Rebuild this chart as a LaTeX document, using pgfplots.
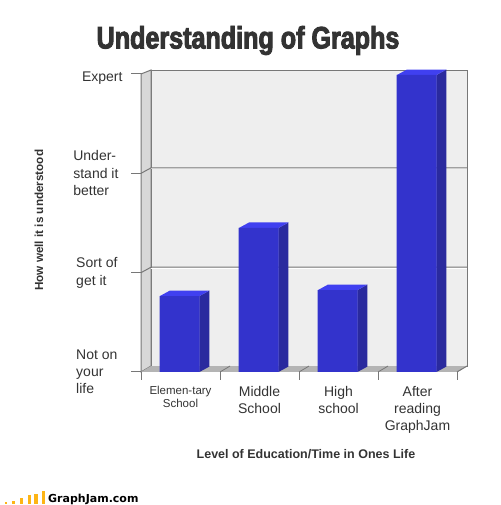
\documentclass[border=0pt]{standalone}
\usepackage{fontspec}
\setmainfont{Liberation Sans}
\newfontface\titlefont[FakeStretch=0.81,FakeBold=3]{Liberation Sans Bold}
\newfontface\logofont{DejaVu Sans Bold}
\usepackage{pgfplots}
\pgfplotsset{compat=1.18}
\definecolor{txt}{HTML}{333333}
\definecolor{wall}{HTML}{EEEEEE}
\definecolor{sidewall}{HTML}{D8D8D8}
\definecolor{floorc}{HTML}{B4B4B4}
\definecolor{framec}{HTML}{777777}
\definecolor{barfront}{HTML}{3333CC}
\definecolor{barside}{HTML}{2A2A9E}
\definecolor{bartop}{HTML}{4040F0}
\definecolor{logoc}{HTML}{FDB515}
\begin{document}
\begin{tikzpicture}[x=1pt,y=1pt]
\path[use as bounding box] (0,0) rectangle (500,505);
\begin{axis}[
    at={(141pt,133pt)}, anchor=origin,
    scale only axis, width=316pt, height=298pt,
    xmin=0, xmax=4, ymin=0, ymax=3,
    clip=false,
    axis x line=bottom, axis y line=left,
    axis line style={-, framec, line width=1pt},
    tick style={framec, line width=1pt},
    xtick={0.5,1.5,2.5,3.5},
    major x tick style={draw=none},
    minor xtick={0,1,2,3,4},
    minor tick length=16pt,
    xticklabels={{\fontsize{11.5}{13}\selectfont Elemen-tary\\[-4pt]\fontsize{11.5}{13}\selectfont School},Middle\\School,High\\school,After\\reading\\GraphJam},
    xticklabel style={align=center, anchor=north, text=txt, font=\fontsize{14}{17}\selectfont, yshift=-1pt},
    ytick={0,1,2,3},
    yticklabels={{Not on\hspace*{1pt}\\[-0.5pt]your\\[-0.5pt]life},{Sort of\hspace*{1pt}\\get it},{Under-\\stand it\hspace*{1pt}\\better},{\raisebox{-8pt}[0pt][0pt]{Expert}\hspace*{-4pt}}},
    major tick length=20pt,
    yticklabel style={align=left, anchor=east, text=txt, font=\fontsize{14}{17.5}\selectfont, xshift=-9pt},
    xlabel={Level of Education/Time in Ones Life},
    xlabel style={font=\bfseries\fontsize{12.5}{14}\selectfont, text=txt, at={(axis description cs:0.522,0)}, anchor=center, yshift=-82pt},
    ylabel={How well it is understood},
    ylabel style={font=\bfseries\fontsize{11.7}{14}\selectfont, text=txt, at={(axis description cs:0,0.509)}, anchor=center, yshift=102pt},
]
% walls
\addplot[fill=wall, draw=framec, line width=1pt, no markers] coordinates {(0.127,0.06) (4.127,0.06) (4.127,3.04) (0.127,3.04)} -- cycle;
\addplot[fill=sidewall, draw=framec, line width=1pt, no markers] coordinates {(0,0) (0.127,0.06) (0.127,3.04) (0,3)} -- cycle;
\addplot[fill=floorc, draw=none, no markers] coordinates {(0,0) (0.127,0.06) (4.127,0.06) (4,0)} -- cycle;
\addplot[framec, line width=1pt, no markers] coordinates {(4,0) (4.127,0.06)};
% gridlines, white highlight below
\addplot[white, line width=1pt, no markers] coordinates {(0.127,2.044) (4.127,2.044)};
\addplot[white, line width=1pt, no markers] coordinates {(0.127,1.044) (4.127,1.044)};
\addplot[framec, line width=1pt, no markers] coordinates {(0,2) (0.127,2.055) (4.127,2.055)};
\addplot[framec, line width=1pt, no markers] coordinates {(0,1) (0.127,1.055) (4.127,1.055)};
% floor ticks
\addplot[framec, line width=.8pt, no markers] coordinates {(1,0) (1.127,0.06)};
\addplot[framec, line width=.8pt, no markers] coordinates {(2,0) (2.127,0.06)};
\addplot[framec, line width=.8pt, no markers] coordinates {(3,0) (3.127,0.06)};
% bar sides and tops
\addplot[fill=barside, draw=none, no markers] coordinates {(0.74,0) (0.867,0.055) (0.867,0.82) (0.74,0.765)} -- cycle;
\addplot[fill=bartop, draw=none, no markers] coordinates {(0.24,0.765) (0.367,0.82) (0.867,0.82) (0.74,0.765)} -- cycle;
\addplot[fill=barside, draw=none, no markers] coordinates {(1.74,0) (1.867,0.055) (1.867,1.505) (1.74,1.45)} -- cycle;
\addplot[fill=bartop, draw=none, no markers] coordinates {(1.24,1.45) (1.367,1.505) (1.867,1.505) (1.74,1.45)} -- cycle;
\addplot[fill=barside, draw=none, no markers] coordinates {(2.74,0) (2.867,0.055) (2.867,0.88) (2.74,0.825)} -- cycle;
\addplot[fill=bartop, draw=none, no markers] coordinates {(2.24,0.825) (2.367,0.88) (2.867,0.88) (2.74,0.825)} -- cycle;
\addplot[fill=barside, draw=none, no markers] coordinates {(3.74,0) (3.867,0.055) (3.867,3.045) (3.74,2.99)} -- cycle;
\addplot[fill=bartop, draw=none, no markers] coordinates {(3.24,2.99) (3.367,3.045) (3.867,3.045) (3.74,2.99)} -- cycle;
% bar fronts
\addplot[ybar, bar width=40pt, fill=barfront, draw=none] coordinates {(0.49,0.765) (1.49,1.45) (2.49,0.825) (3.49,2.99)};
\end{axis}
% logo bars
\begin{axis}[
    at={(4pt,1pt)}, anchor=origin,
    scale only axis, width=44pt, height=13pt,
    xmin=0, xmax=44, ymin=0, ymax=13,
    hide axis, clip=false,
]
\addplot[ybar, bar width=2pt, fill=logoc, draw=none] coordinates {(2,2)};
\addplot[ybar, bar width=2.4pt, fill=logoc, draw=none] coordinates {(9.5,3)};
\addplot[ybar, bar width=2.8pt, fill=logoc, draw=none] coordinates {(17.5,6)};
\addplot[ybar, bar width=3pt, fill=logoc, draw=none] coordinates {(25,8.5)};
\addplot[ybar, bar width=3.2pt, fill=logoc, draw=none] coordinates {(32,10)};
\addplot[ybar, bar width=3.4pt, fill=logoc, draw=none] coordinates {(39.5,12.5)};
\end{axis}
\node[anchor=center, text=txt, inner sep=0pt] at (248,464.5) {\titlefont\fontsize{31}{33}\selectfont Understanding of Graphs};
\node[anchor=west, text=black, inner sep=0pt] at (48,6) {\logofont\fontsize{11}{12}\selectfont GraphJam.com};
\end{tikzpicture}
\end{document}
